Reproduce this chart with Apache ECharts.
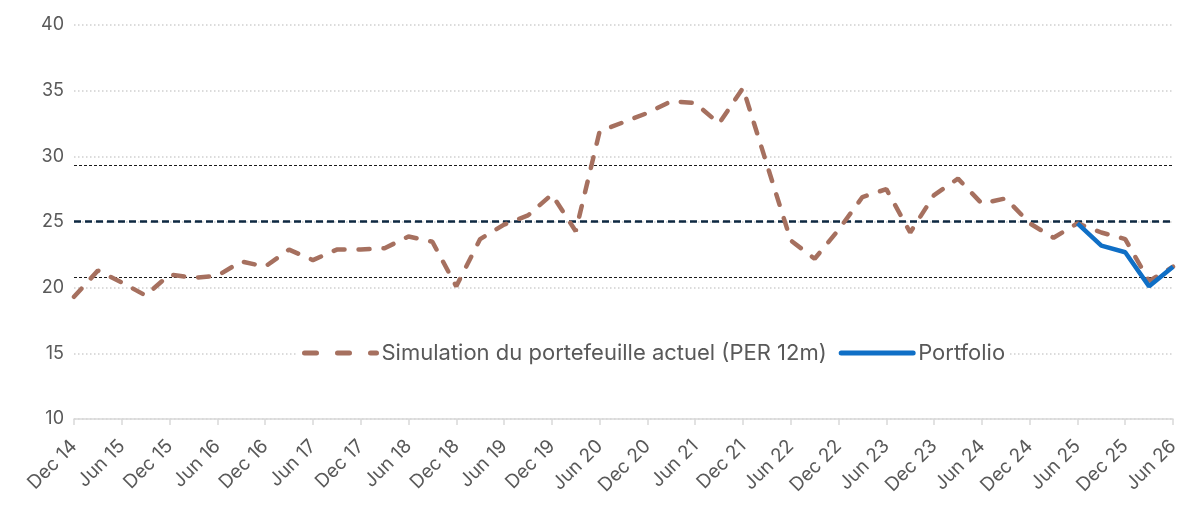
<!DOCTYPE html>
<html lang="fr">
<head>
    <meta charset="UTF-8">
    <title>PER 12m</title>
    <script src="https://cdn.jsdelivr.net/npm/echarts@6/dist/echarts.min.js"></script>
    <style type="text/css">
        *{
            margin: 0;
            padding: 0;
        }
        #chart{
            width: 1204px;
            height: 528px;
        }
    </style>
</head>
<body>
    <div id="chart"></div>
</body>
<script>
    // trimestres, une étiquette sur deux est affichée
    var quarters = ['Dec 14','Mar 15','Jun 15','Sep 15','Dec 15','Mar 16','Jun 16','Sep 16',
        'Dec 16','Mar 17','Jun 17','Sep 17','Dec 17','Mar 18','Jun 18','Sep 18',
        'Dec 18','Mar 19','Jun 19','Sep 19','Dec 19','Mar 20','Jun 20','Sep 20',
        'Dec 20','Mar 21','Jun 21','Sep 21','Dec 21','Mar 22','Jun 22','Sep 22',
        'Dec 22','Mar 23','Jun 23','Sep 23','Dec 23','Mar 24','Jun 24','Sep 24',
        'Dec 24','Mar 25','Jun 25','Sep 25','Dec 25','Mar 26','Jun 26'];

    var simulation = [19.3, 21.3, 20.4, 19.4, 21.0, 20.75, 20.9, 22.0,
        21.6, 22.9, 22.1, 22.9, 22.9, 23.0, 23.9, 23.5,
        20.1, 23.7, 24.8, 25.5, 27.1, 24.3, 31.9, 32.6,
        33.3, 34.2, 34.05, 32.5, 35.2, 29.4, 23.6, 22.2,
        24.4, 26.9, 27.5, 24.2, 27.05, 28.3, 26.4, 26.8,
        24.9, 23.8, 24.9, 24.2, 23.7, 20.5, 21.6];

    var portfolio = [null, null, null, null, null, null, null, null,
        null, null, null, null, null, null, null, null,
        null, null, null, null, null, null, null, null,
        null, null, null, null, null, null, null, null,
        null, null, null, null, null, null, null, null,
        null, null, 24.9, 23.2, 22.7, 20.1, 21.6];

    // moyenne et +/- 1 écart-type
    var meanLevel = 25.05;
    var bandLevels = [20.78, 29.33];

    var yTicks = {min: 10, max: 40, step: 5};

    var font = 'Inter';
    var grey = '#595959';
    var brown = '#a6705f';
    var blue = '#0f6fc6';

    var myChart = echarts.init(document.getElementById('chart'));
    var option = {
        animation: false,
        grid: {
            left: 74,
            right: 31,
            top: 25,
            bottom: 109,
            containLabel: false
        },
        legend: {
            left: 298,
            top: 340,
            padding: [2, 4],
            backgroundColor: '#ffffff',
            itemWidth: 72,
            itemHeight: 4,
            itemGap: 12,
            itemStyle: {opacity: 0},
            textStyle: {
                fontFamily: font,
                fontSize: 22,
                color: grey
            },
            data: [
                {
                    name: 'Simulation du portefeuille actuel (PER 12m)',
                    lineStyle: {color: brown, width: 5, type: [12, 21], cap: 'round'}
                },
                {
                    name: 'Portfolio',
                    lineStyle: {color: blue, width: 5, cap: 'round'}
                }
            ]
        },
        xAxis: {
            type: 'category',
            boundaryGap: false,
            data: quarters,
            axisLine: {lineStyle: {color: '#d9d9d9', width: 1.5}},
            axisTick: {
                show: true,
                interval: 1,
                length: 6,
                lineStyle: {color: '#d9d9d9', width: 1.5}
            },
            axisLabel: {
                interval: 1,
                rotate: 45,
                margin: 24,
                fontFamily: font,
                fontSize: 19,
                color: grey
            },
            splitLine: {show: false}
        },
        yAxis: {
            type: 'value',
            min: yTicks.min,
            max: yTicks.max,
            interval: yTicks.step,
            axisLine: {show: false},
            axisTick: {show: false},
            axisLabel: {
                margin: 10,
                fontFamily: font,
                fontSize: 18,
                color: grey
            },
            splitLine: {
                lineStyle: {color: '#d0d0d0', width: 1.5, type: [1.5, 2.5]}
            }
        },
        series: [
            {
                name: 'Simulation du portefeuille actuel (PER 12m)',
                type: 'line',
                data: simulation,
                symbol: 'none',
                showSymbol: false,
                z: 3,
                lineStyle: {
                    color: brown,
                    width: 4.5,
                    type: [11, 14],
                    cap: 'round'
                },
                itemStyle: {color: brown},
                markLine: {
                    silent: true,
                    symbol: 'none',
                    label: {show: false},
                    z: 2,
                    data: [
                        {yAxis: meanLevel, lineStyle: {color: '#0e2841', width: 2.5, type: [7, 4]}},
                        {yAxis: bandLevels[0], lineStyle: {color: '#1a1a1a', width: 1, type: [3, 2]}},
                        {yAxis: bandLevels[1], lineStyle: {color: '#1a1a1a', width: 1, type: [3, 2]}}
                    ]
                }
            },
            {
                name: 'Portfolio',
                type: 'line',
                data: portfolio,
                symbol: 'none',
                showSymbol: false,
                z: 4,
                lineStyle: {color: blue, width: 4.5},
                itemStyle: {color: blue}
            }
        ]
    };
    myChart.setOption(option);
</script>
</html>
